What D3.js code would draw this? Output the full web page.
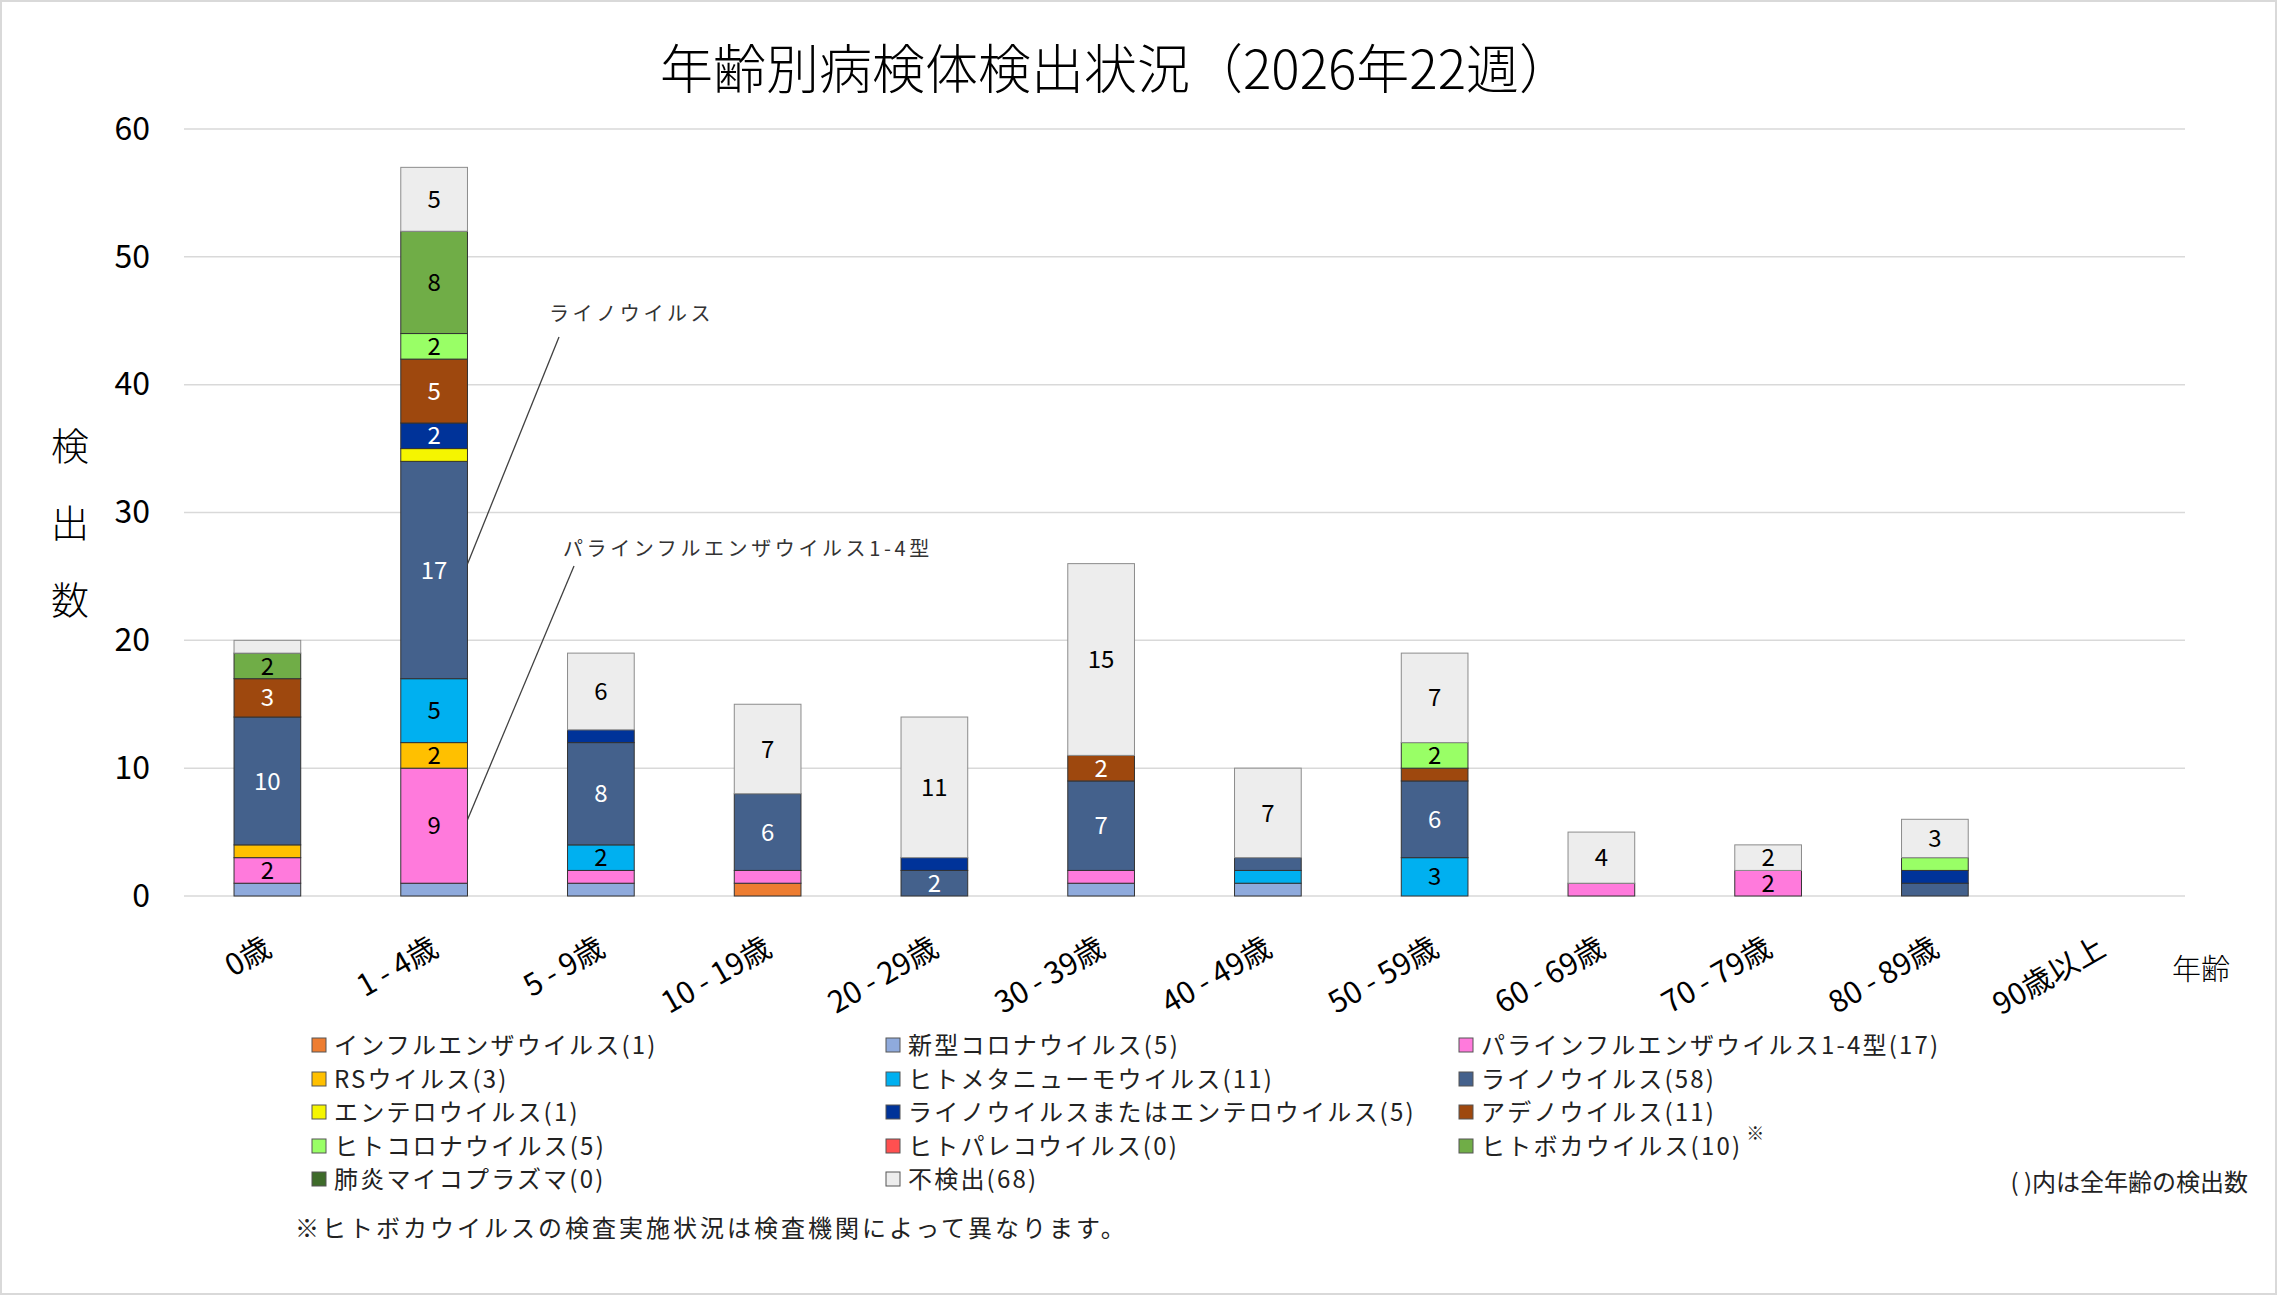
<!DOCTYPE html>
<html>
<head>
<meta charset="utf-8">
<script src="https://cdn.jsdelivr.net/npm/d3@7"></script>
<style>
  body { margin: 0; background: #fff; }
  svg text { font-family: "Noto Sans CJK JP", "Noto Sans", sans-serif; }
</style>
</head>
<body>
<svg id="chart" width="2277" height="1295"></svg>
<script>
// age groups on the x axis
const ages = ["0歳", "1 - 4歳", "5 - 9歳", "10 - 19歳", "20 - 29歳", "30 - 39歳",
              "40 - 49歳", "50 - 59歳", "60 - 69歳", "70 - 79歳", "80 - 89歳", "90歳以上"];

// series, in stack order (bottom to top)
const seriesNames = ["インフルエンザウイルス", "新型コロナウイルス", "パラインフルエンザウイルス1-4型",
                     "RSウイルス", "ヒトメタニューモウイルス", "ライノウイルス",
                     "エンテロウイルス", "ライノウイルスまたはエンテロウイルス", "アデノウイルス",
                     "ヒトコロナウイルス", "ヒトパレコウイルス", "ヒトボカウイルス",
                     "肺炎マイコプラズマ", "不検出"];
const seriesColors = ["#ED7D31", "#8FAADC", "#FF7ADC", "#FFC000", "#00B0F0", "#44618C",
                      "#F5F500", "#003399", "#9E480E", "#99FF66", "#FF5050", "#70AD47",
                      "#3E6B2A", "#EDEDED"];

// counts per age group for each series
const influenza  = [0, 0, 0, 1, 0, 0, 0, 0, 0, 0, 0, 0];
const covid      = [1, 1, 1, 0, 0, 1, 1, 0, 0, 0, 0, 0];
const parainflu  = [2, 9, 1, 1, 0, 1, 0, 0, 1, 2, 0, 0];
const rsv        = [1, 2, 0, 0, 0, 0, 0, 0, 0, 0, 0, 0];
const hmpv       = [0, 5, 2, 0, 0, 0, 1, 3, 0, 0, 0, 0];
const rhino      = [10, 17, 8, 6, 2, 7, 1, 6, 0, 0, 1, 0];
const entero     = [0, 1, 0, 0, 0, 0, 0, 0, 0, 0, 0, 0];
const rhinoEnt   = [0, 2, 1, 0, 1, 0, 0, 0, 0, 0, 1, 0];
const adeno      = [3, 5, 0, 0, 0, 2, 0, 1, 0, 0, 0, 0];
const hcov       = [0, 2, 0, 0, 0, 0, 0, 2, 0, 0, 1, 0];
const parecho    = [0, 0, 0, 0, 0, 0, 0, 0, 0, 0, 0, 0];
const boca       = [2, 8, 0, 0, 0, 0, 0, 0, 0, 0, 0, 0];
const mycoplasma = [0, 0, 0, 0, 0, 0, 0, 0, 0, 0, 0, 0];
const negative   = [1, 5, 6, 7, 11, 15, 7, 7, 4, 2, 3, 0];

const seriesValues = [influenza, covid, parainflu, rsv, hmpv, rhino, entero, rhinoEnt,
                      adeno, hcov, parecho, boca, mycoplasma, negative];

const yTicks = [0, 10, 20, 30, 40, 50, 60];

// series whose value labels are drawn in white
const darkSeries = ["ライノウイルス", "ライノウイルスまたはエンテロウイルス", "アデノウイルス"];

// build table for d3.stack
const table = ages.map((a, i) => {
    let row = {age: a};
    seriesNames.forEach((s, j) => { row[s] = seriesValues[j][i]; });
    return row;
});
const totals = seriesValues.map(v => d3.sum(v));

const svg = d3.select("#chart");
const W = 2277, H = 1295;
const plotLeft = 184, plotRight = 2185, plotTop = 129, plotBottom = 896;

svg.append("rect")
    .attr("x", 1).attr("y", 1).attr("width", W - 2).attr("height", H - 2)
    .attr("fill", "#fff").attr("stroke", "#d9d9d9").attr("stroke-width", 2);

const x = d3.scaleBand().domain(ages).range([plotLeft, plotRight]).paddingInner(0.6).paddingOuter(0.3);
const y = d3.scaleLinear().domain([0, 60]).range([plotBottom, plotTop]);
const color = d3.scaleOrdinal().domain(seriesNames).range(seriesColors);

// gridlines
svg.append("g")
    .selectAll("line")
    .data(yTicks)
    .join("line")
    .attr("x1", plotLeft).attr("x2", plotRight)
    .attr("y1", d => y(d)).attr("y2", d => y(d))
    .attr("stroke", "#d9d9d9").attr("stroke-width", 1.5);

// y axis labels
const yAxis = svg.append("g")
    .attr("transform", `translate(${plotLeft - 34},0)`)
    .call(d3.axisLeft(y).tickValues(yTicks).tickSize(0).tickPadding(0));
yAxis.select(".domain").remove();
yAxis.selectAll("text")
    .attr("font-size", 32).attr("fill", "#000")
    .style("font-family", "'Noto Sans CJK JP', sans-serif");

// stacked bars
const stack = d3.stack().keys(seriesNames)(table);

const layers = svg.append("g")
    .selectAll("g")
    .data(stack)
    .join("g")
    .attr("fill", d => color(d.key))
    .attr("stroke", d => d.key === "不検出" ? "#8c8c8c" : "#333")
    .attr("stroke-width", 1);

layers.selectAll("rect")
    .data(d => d.filter(p => p[1] > p[0]))
    .join("rect")
    .attr("x", p => x(p.data.age))
    .attr("width", x.bandwidth())
    .attr("y", p => y(p[1]))
    .attr("height", p => y(p[0]) - y(p[1]));

// value labels (2 or more)
stack.forEach(layer => {
    svg.append("g")
        .selectAll("text")
        .data(layer.filter(p => p[1] - p[0] >= 2))
        .join("text")
        .attr("x", p => x(p.data.age) + x.bandwidth() / 2)
        .attr("y", p => y((p[0] + p[1]) / 2))
        .attr("dy", "0.36em")
        .attr("text-anchor", "middle")
        .attr("font-size", 24)
        .attr("fill", darkSeries.includes(layer.key) ? "#fff" : "#000")
        .text(p => p[1] - p[0]);
});

// x axis labels
svg.append("g")
    .selectAll("text")
    .data(ages)
    .join("text")
    .attr("transform", d => `translate(${x(d) + x.bandwidth() / 2 + 6},${plotBottom + 58}) rotate(-30)`)
    .attr("text-anchor", "end")
    .attr("font-size", 30)
    .text(d => d);

svg.append("text")
    .attr("x", 2201).attr("y", 980)
    .attr("text-anchor", "middle")
    .attr("font-size", 29)
    .attr("font-weight", 300)
    .text("年齢");

// y axis title, one character per line
svg.append("g")
    .selectAll("text")
    .data(["検", "出", "数"])
    .join("text")
    .attr("x", 70)
    .attr("y", (d, i) => 460 + i * 77)
    .attr("text-anchor", "middle")
    .attr("font-size", 38)
    .attr("font-weight", 300)
    .text(d => d);

// title
svg.append("text")
    .attr("x", 1116).attr("y", 89)
    .attr("text-anchor", "middle")
    .attr("font-size", 53)
    .attr("font-weight", 300)
    .text("年齢別病検体検出状況（2026年22週）");

// callouts
const band14 = ages[1];
const callouts = [
    {name: "ライノウイルス", tx: 549, ty: 321, lx: 559, ly: 337},
    {name: "パラインフルエンザウイルス1-4型", tx: 563, ty: 556, lx: 574, ly: 566}
];
callouts.forEach(c => {
    const layer = stack[seriesNames.indexOf(c.name)];
    const p = layer[ages.indexOf(band14)];
    svg.append("line")
        .attr("x1", c.lx).attr("y1", c.ly)
        .attr("x2", x(band14) + x.bandwidth()).attr("y2", y((p[0] + p[1]) / 2) - 6)
        .attr("stroke", "#404040").attr("stroke-width", 1.3);
    svg.append("text")
        .attr("x", c.tx).attr("y", c.ty)
        .attr("font-size", 20)
        .attr("letter-spacing", 3.6)
        .attr("fill", "#333")
        .text(c.name);
});

// legend
const legendCols = [312, 886, 1459];
const legendRows = [1045, 1079, 1112, 1146, 1179];
const legend = svg.append("g")
    .selectAll("g")
    .data(seriesNames)
    .join("g")
    .attr("transform", (d, i) => `translate(${legendCols[i % 3]},${legendRows[Math.floor(i / 3)]})`);

legend.append("rect")
    .attr("x", 0).attr("y", -7).attr("width", 14).attr("height", 14)
    .attr("fill", d => color(d))
    .attr("stroke", "#555").attr("stroke-width", 1);

legend.append("text")
    .attr("class", "legend-label")
    .attr("x", 22).attr("y", 0).attr("dy", "0.36em")
    .attr("font-size", 24)
    .attr("letter-spacing", 2.2)
    .attr("fill", "#222")
    .text((d, i) => `${d}(${totals[i]})`);

// superscript mark after the bocavirus entry
legend.filter(d => d === "ヒトボカウイルス")
    .each(function() {
        const g = d3.select(this);
        const w = g.select(".legend-label").node().getComputedTextLength();
        g.append("text")
            .attr("x", 22 + w + 4).attr("y", -6)
            .attr("font-size", 18)
            .attr("fill", "#222")
            .text("※");
    });

svg.append("text")
    .attr("x", 2248).attr("y", 1182).attr("dy", "0.36em")
    .attr("text-anchor", "end")
    .attr("font-size", 24)
    .attr("fill", "#222")
    .text("( )内は全年齢の検出数");

svg.append("text")
    .attr("x", 295).attr("y", 1228).attr("dy", "0.36em")
    .attr("font-size", 24)
    .attr("letter-spacing", 3)
    .attr("fill", "#222")
    .text("※ヒトボカウイルスの検査実施状況は検査機関によって異なります。");
</script>
</body>
</html>
